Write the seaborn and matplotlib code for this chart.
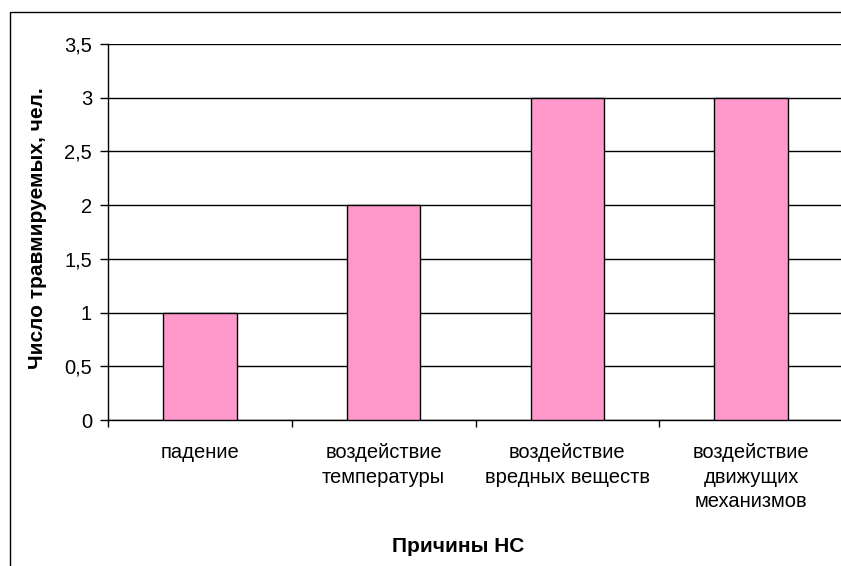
import matplotlib
matplotlib.use("Agg")
import matplotlib.pyplot as plt
from matplotlib.patches import Rectangle
import seaborn as sns
import pandas as pd

# Causes of accidents and number of injured
causes = [
    "падение",
    "воздействие\nтемпературы",
    "воздействие\nвредных веществ",
    "воздействие\nдвижущих\nмеханизмов",
]
injured = [1, 2, 3, 3]
y_ticks = [0, 0.5, 1, 1.5, 2, 2.5, 3, 3.5]
y_tick_labels = ["0", "0,5", "1", "1,5", "2", "2,5", "3", "3,5"]

sns.set_theme(style="white")
plt.rcParams["font.family"] = ["Liberation Sans", "DejaVu Sans"]
plt.rcParams["text.color"] = "black"
plt.rcParams["xtick.color"] = "black"
plt.rcParams["ytick.color"] = "black"

W, H = 841, 566
fig = plt.figure(figsize=(W / 100, H / 100), dpi=100)
fig.patch.set_facecolor("white")

# chart-area frame
fig.patches.append(Rectangle((10 / W, -0.1), 1.2, 1 - 12 / H + 0.1,
                             transform=fig.transFigure, fill=False,
                             edgecolor="black", linewidth=1.0, zorder=0))

left, right, top, bottom = 108, 843, 44, 420
ax = fig.add_axes([left / W, 1 - bottom / H, (right - left) / W, (bottom - top) / H])
ax.set_facecolor("white")

df = pd.DataFrame({"cause": causes, "n": injured})
sns.barplot(data=df, x="cause", y="n", ax=ax, width=0.4, color="#FF99CC",
            saturation=1, edgecolor="black", linewidth=1.0, zorder=3)

ax.set_ylim(0, 3.5)
ax.set_xlim(-0.5, len(causes) - 0.5)
ax.set_yticks(y_ticks)
ax.set_yticklabels(y_tick_labels)
ax.yaxis.grid(True, color="black", linewidth=1.0)
ax.set_axisbelow(True)

for s in ["top", "right"]:
    ax.spines[s].set_visible(False)
for s in ["left", "bottom"]:
    ax.spines[s].set_color("black")
    ax.spines[s].set_linewidth(1.0)

ax.tick_params(axis="y", which="major", direction="out", length=5.5, width=1,
               color="black", labelsize=14.5, labelcolor="black", pad=6, left=True)
ax.set_xticks(range(len(causes)))
ax.set_xticklabels(causes, fontsize=14.5, linespacing=1.38, va="top", color="black")
ax.tick_params(axis="x", which="major", length=0, pad=16.5)
ax.set_xticks([i - 0.5 for i in range(len(causes) + 1)], minor=True)
ax.tick_params(axis="x", which="minor", direction="out", length=5, width=1,
               color="black", bottom=True)

ax.set_xlabel("")
ax.set_ylabel("")
fig.text(38 / W, 1 - 228 / H, "Число травмируемых, чел.", rotation=90,
         ha="center", va="center", fontsize=15, fontweight="bold", color="black")
fig.text(458 / W, 1 - 547 / H, "Причины НС", ha="center", va="center",
         fontsize=15, fontweight="bold", color="black")

fig.savefig("out.png", dpi=100)
